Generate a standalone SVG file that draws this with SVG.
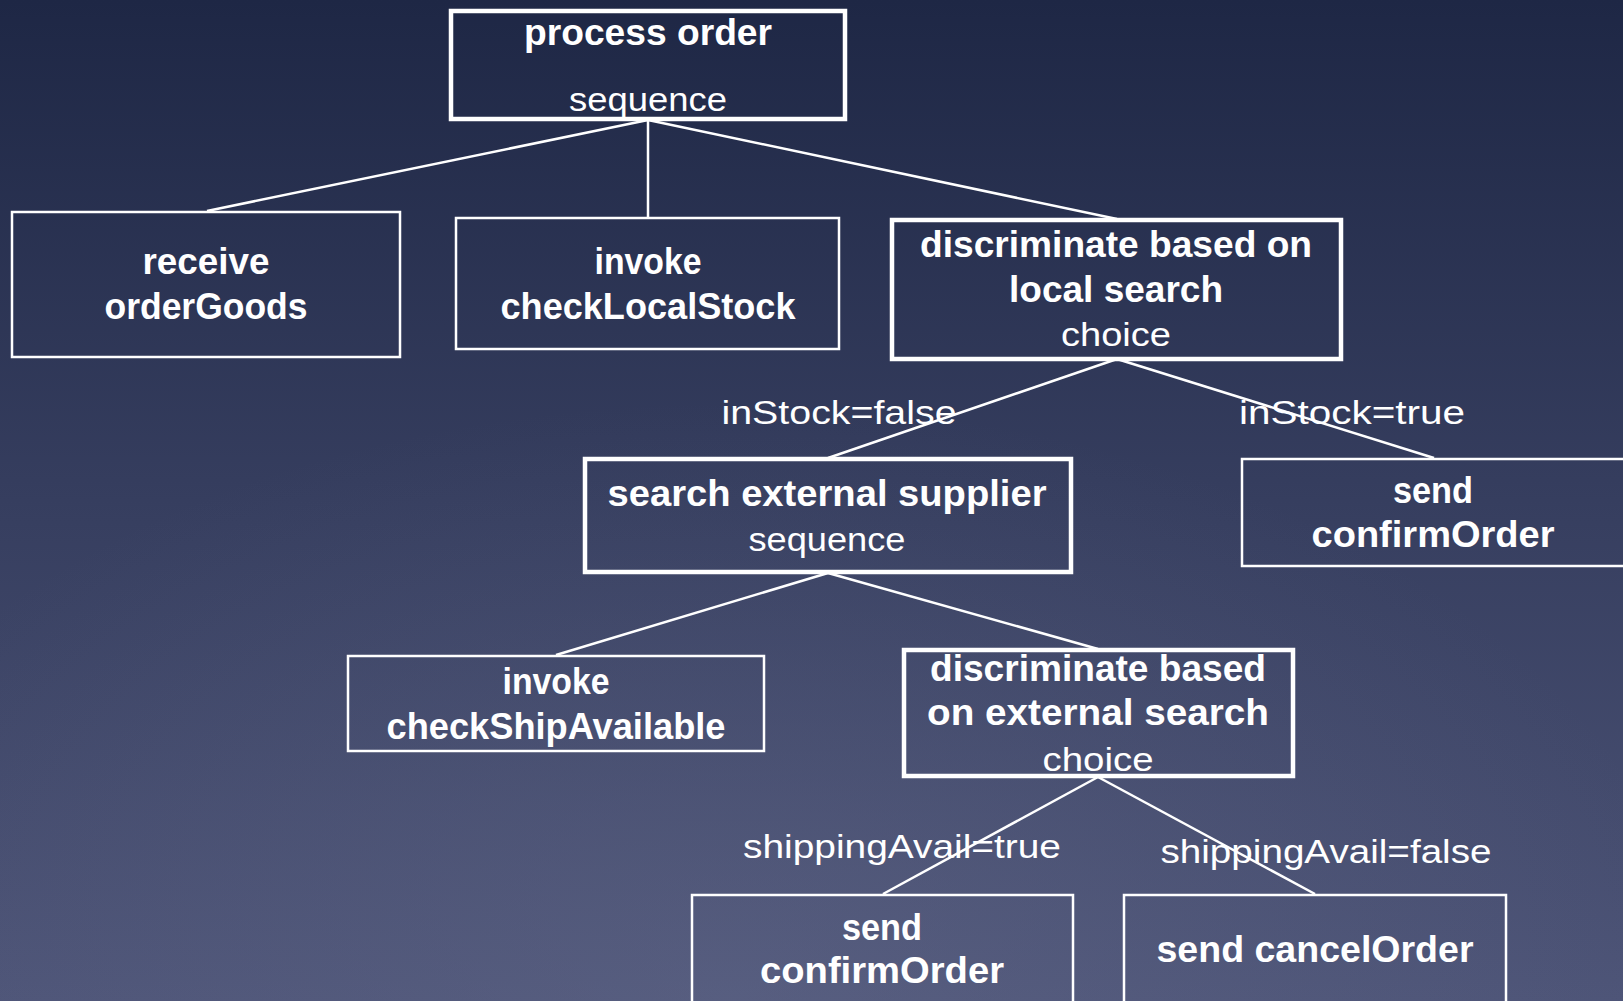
<svg xmlns="http://www.w3.org/2000/svg" width="1623" height="1001" viewBox="0 0 1623 1001">
  <defs>
    <linearGradient id="bg" x1="0" y1="0" x2="0" y2="1">
      <stop offset="0" stop-color="#1e2745"/>
      <stop offset="0.5" stop-color="#363e5f"/>
      <stop offset="1" stop-color="#4d5477"/>
    </linearGradient>
    <radialGradient id="glow" cx="0.45" cy="1" r="0.6">
      <stop offset="0" stop-color="#6a7090" stop-opacity="0.35"/>
      <stop offset="1" stop-color="#6a7090" stop-opacity="0"/>
    </radialGradient>
    <style>
      .box { fill: none; stroke: #ffffff; stroke-width: 2.5; }
      .box.heavy { stroke-width: 4.5; }
      .edge { stroke: #ffffff; stroke-width: 2.5; fill: none; }
      text { fill: #ffffff; font-family: "Liberation Sans", Arial, sans-serif; text-anchor: middle; }
      .b { font-weight: bold; font-size: 36px; }
      .r { font-size: 34px; }
    </style>
  </defs>

  <rect x="0" y="0" width="1623" height="1001" fill="url(#bg)"/>
  <rect x="0" y="0" width="1623" height="1001" fill="url(#glow)"/>

  <!-- tree edges -->
  <g id="connectors">
    <line class="edge" x1="648" y1="120" x2="207" y2="211"/>
    <line class="edge" x1="648" y1="120" x2="648" y2="217"/>
    <line class="edge" x1="648" y1="120" x2="1117" y2="219"/>
    <line class="edge" x1="1117" y1="359" x2="828" y2="458"/>
    <line class="edge" x1="1117" y1="359" x2="1434" y2="458"/>
    <line class="edge" x1="828" y1="573" x2="556" y2="655"/>
    <line class="edge" x1="828" y1="573" x2="1098" y2="649"/>
    <line class="edge" x1="1098" y1="777" x2="883" y2="894"/>
    <line class="edge" x1="1098" y1="777" x2="1315" y2="894"/>
    <text class="r" x="839" y="424" textLength="235" lengthAdjust="spacingAndGlyphs">inStock=false</text>
    <text class="r" x="1352" y="424" textLength="226" lengthAdjust="spacingAndGlyphs">inStock=true</text>
    <text class="r" x="902" y="858" textLength="318" lengthAdjust="spacingAndGlyphs">shippingAvail=true</text>
    <text class="r" x="1326" y="863" textLength="331" lengthAdjust="spacingAndGlyphs">shippingAvail=false</text>
  </g>

  <g id="process-order">
    <rect class="box heavy" x="451" y="11" width="394" height="108"/>
    <text class="b" x="648" y="45" textLength="248" lengthAdjust="spacingAndGlyphs">process order</text>
    <text class="r" x="648" y="111" textLength="158" lengthAdjust="spacingAndGlyphs">sequence</text>
  </g>

  <g id="receive-orderGoods">
    <rect class="box" x="12" y="212" width="388" height="145"/>
    <text class="b" x="206" y="274" textLength="127" lengthAdjust="spacingAndGlyphs">receive</text>
    <text class="b" x="206" y="319" textLength="203" lengthAdjust="spacingAndGlyphs">orderGoods</text>
  </g>

  <g id="invoke-checkLocalStock">
    <rect class="box" x="456" y="218" width="383" height="131"/>
    <text class="b" x="648" y="274" textLength="107" lengthAdjust="spacingAndGlyphs">invoke</text>
    <text class="b" x="648" y="319" textLength="295" lengthAdjust="spacingAndGlyphs">checkLocalStock</text>
  </g>

  <g id="discriminate-local">
    <rect class="box heavy" x="892" y="220" width="449" height="139"/>
    <text class="b" x="1116" y="257" textLength="392" lengthAdjust="spacingAndGlyphs">discriminate based on</text>
    <text class="b" x="1116" y="302" textLength="214" lengthAdjust="spacingAndGlyphs">local search</text>
    <text class="r" x="1116" y="346" textLength="110" lengthAdjust="spacingAndGlyphs">choice</text>
  </g>

  <g id="search-external-supplier">
    <rect class="box heavy" x="585" y="459" width="486" height="113"/>
    <text class="b" x="827" y="506" textLength="439" lengthAdjust="spacingAndGlyphs">search external supplier</text>
    <text class="r" x="827" y="551" textLength="157" lengthAdjust="spacingAndGlyphs">sequence</text>
  </g>

  <g id="send-confirmOrder-local">
    <rect class="box" x="1242" y="459" width="400" height="107"/>
    <text class="b" x="1433" y="503" textLength="80" lengthAdjust="spacingAndGlyphs">send</text>
    <text class="b" x="1433" y="547" textLength="243" lengthAdjust="spacingAndGlyphs">confirmOrder</text>
  </g>

  <g id="invoke-checkShipAvailable">
    <rect class="box" x="348" y="656" width="416" height="95"/>
    <text class="b" x="556" y="694" textLength="107" lengthAdjust="spacingAndGlyphs">invoke</text>
    <text class="b" x="556" y="739" textLength="339" lengthAdjust="spacingAndGlyphs">checkShipAvailable</text>
  </g>

  <g id="discriminate-external">
    <rect class="box heavy" x="904" y="650" width="389" height="126"/>
    <text class="b" x="1098" y="681" textLength="336" lengthAdjust="spacingAndGlyphs">discriminate based</text>
    <text class="b" x="1098" y="725" textLength="342" lengthAdjust="spacingAndGlyphs">on external search</text>
    <text class="r" x="1098" y="771" textLength="111" lengthAdjust="spacingAndGlyphs">choice</text>
  </g>

  <g id="send-confirmOrder-external">
    <rect class="box" x="692" y="895" width="381" height="120"/>
    <text class="b" x="882" y="940" textLength="80" lengthAdjust="spacingAndGlyphs">send</text>
    <text class="b" x="882" y="983" textLength="244" lengthAdjust="spacingAndGlyphs">confirmOrder</text>
  </g>

  <g id="send-cancelOrder">
    <rect class="box" x="1124" y="895" width="382" height="120"/>
    <text class="b" x="1315" y="962" textLength="317" lengthAdjust="spacingAndGlyphs">send cancelOrder</text>
  </g>
</svg>
